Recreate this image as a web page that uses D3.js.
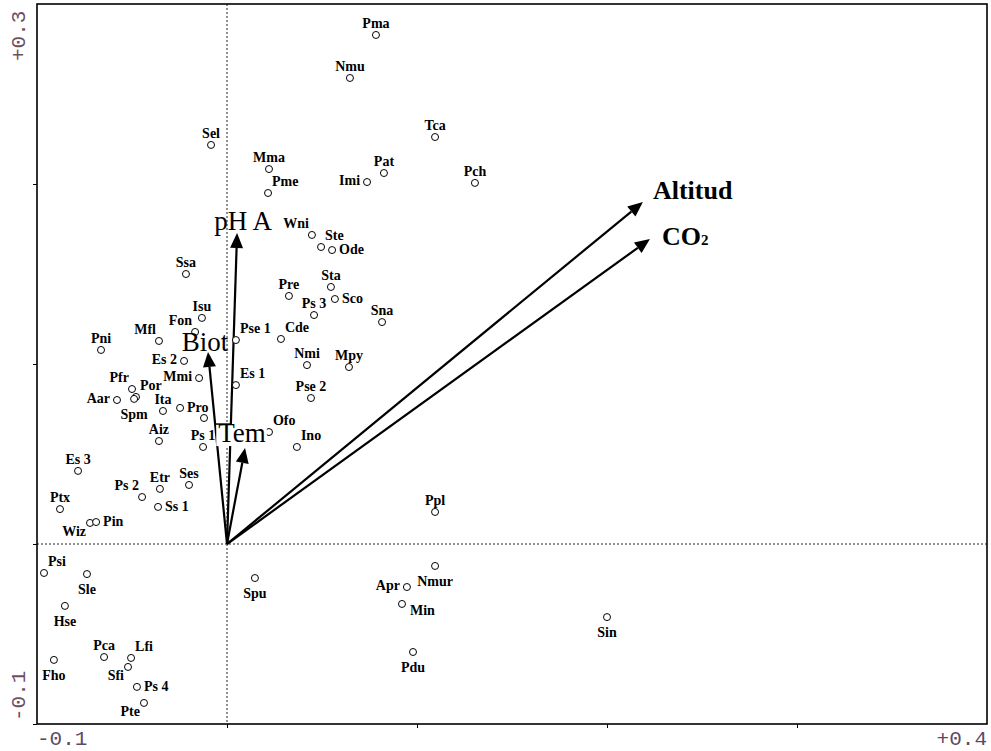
<!DOCTYPE html>
<html>
<head>
<meta charset="utf-8">
<script src="https://cdn.jsdelivr.net/npm/d3@7"></script>
<style>
  body { margin: 0; background: #fff; }
  svg { display: block; }
</style>
</head>
<body>
<div id="target"></div>
<script>
const width = 991,
  height = 751;

// species scores (axis 1, axis 2)
const speciesNames = [
  "Pma", "Nmu", "Sel", "Tca", "Mma", "Pat", "Imi", "Pch", "Pme", "Wni",
  "Ste", "Ode", "Sta", "Sco", "Pre", "Ps 3", "Sna", "Pse 1", "Cde", "Nmi",
  "Mpy", "Es 1", "Pse 2", "Ofo", "Ino", "Ssa", "Isu", "Fon", "Pni", "Mfl",
  "Es 2", "Mmi", "Pfr", "Por", "Spm", "Aar", "Ita", "Pro", "", "Ps 1",
  "Aiz", "Es 3", "Etr", "Ses", "Ps 2", "Ss 1", "Ptx", "Wiz", "Pin", "Psi",
  "Sle", "Hse", "Pca", "Lfi", "Sfi", "Fho", "Ps 4", "Pte", "Spu", "Ppl",
  "Nmur", "Apr", "Min", "Pdu", "Sin"
];
const speciesAxis1 = [
  0.0784, 0.0647, -0.0084, 0.1095, 0.0221, 0.0826, 0.0737, 0.1305, 0.0216, 0.0447,
  0.0495, 0.0553, 0.0547, 0.0568, 0.0326, 0.0458, 0.0816, 0.0047, 0.0284, 0.0421,
  0.0642, 0.0047, 0.0442, 0.0221, 0.0368, -0.0216, -0.0132, -0.0168, -0.0663, -0.0358,
  -0.0226, -0.0147, -0.0500, -0.0479, -0.0489, -0.0579, -0.0337, -0.0247, -0.0121, -0.0126,
  -0.0358, -0.0784, -0.0353, -0.0200, -0.0447, -0.0363, -0.0879, -0.0721, -0.0689, -0.0963,
  -0.0737, -0.0853, -0.0647, -0.0505, -0.0521, -0.0911, -0.0474, -0.0437, 0.0147, 0.1095,
  0.1095, 0.0947, 0.0921, 0.0979, 0.2000
];
const speciesAxis2 = [
  0.2828, 0.2589, 0.2217, 0.2261, 0.2083, 0.2061, 0.2011, 0.2006, 0.1950, 0.1717,
  0.1650, 0.1633, 0.1428, 0.1361, 0.1378, 0.1272, 0.1233, 0.1133, 0.1139, 0.0994,
  0.0983, 0.0883, 0.0811, 0.0622, 0.0539, 0.1500, 0.1256, 0.1178, 0.1078, 0.1128,
  0.1017, 0.0922, 0.0861, 0.0817, 0.0806, 0.0800, 0.0739, 0.0756, 0.0700, 0.0539,
  0.0572, 0.0406, 0.0306, 0.0328, 0.0261, 0.0206, 0.0194, 0.0117, 0.0122, -0.0161,
  -0.0167, -0.0344, -0.0628, -0.0633, -0.0683, -0.0644, -0.0794, -0.0883, -0.0189, 0.0178,
  -0.0122, -0.0239, -0.0333, -0.0600, -0.0406
];

// environmental variables (arrow tips)
const envNames = ["Altitud", "CO2", "pH A", "Biot", "Tem"];
const envAxis1 = [0.2189, 0.2226, 0.0053, -0.0100, 0.0095];
const envAxis2 = [0.1900, 0.1694, 0.1728, 0.1067, 0.0533];

// axis extent labels
const xTickLabels = ["-0.1", "+0.4"];
const yTickLabels = ["-0.1", "+0.3"];
const xTicks = [0, 0.1, 0.2, 0.3];
const yTicks = [-0.1, 0, 0.1, 0.2];

// where each species label sits around its point
const labelSide = [
  "N", "N", "N", "N", "N", "N", "W", "N", "NE", "NW",
  "NE", "E", "N", "E", "N", "N", "N", "NE", "NE", "N",
  "N", "NE", "N", "NE", "NE", "N", "N", "NW", "N", "NW",
  "W", "W", "NW", "NE", "S", "W", "N", "E", "N", "N",
  "N", "N", "N", "N", "NW", "E", "N", "SW", "E", "NE",
  "S", "S", "N", "NE", "SW", "S", "E", "SW", "S", "N",
  "S", "W", "SE", "S", "S"
];
const sideOffset = {
  N: [0, -7, "middle"], S: [0, 20, "middle"], E: [7, 4, "start"], W: [-7, 3, "end"],
  NE: [4, -7, "start"], NW: [-3, -7, "end"], SE: [8, 11, "start"], SW: [-4, 13, "end"]
};
const envLabelOffset = {
  "Altitud": [10, -3, "start"], "CO2": [12, 6, "start"], "pH A": [6, -3, "middle"],
  "Biot": [-3, -1, "middle"], "Tem": [-3, -6, "middle"]
};

const x = d3.scaleLinear().domain([-0.1, 0.4]).range([37, 987]);
const y = d3.scaleLinear().domain([-0.1, 0.3]).range([724, 4]);

const svg = d3.select("#target").append("svg")
  .attr("width", width)
  .attr("height", height);

svg.append("rect")
  .attr("width", width)
  .attr("height", height)
  .attr("fill", "#fff");

// dotted zero lines
svg.append("line")
  .attr("x1", x(0)).attr("x2", x(0))
  .attr("y1", y(0.3)).attr("y2", y(-0.1))
  .attr("stroke", "#222").attr("stroke-dasharray", "2,2");
svg.append("line")
  .attr("x1", x(-0.1)).attr("x2", x(0.4))
  .attr("y1", y(0)).attr("y2", y(0))
  .attr("stroke", "#222").attr("stroke-dasharray", "2,2");

// ticks
svg.append("g")
  .attr("transform", `translate(0,${y(-0.1)})`)
  .call(d3.axisBottom(x).tickValues(xTicks).tickSize(4).tickFormat(""))
  .call(g => g.select(".domain").remove());
svg.append("g")
  .attr("transform", `translate(${x(-0.1)},0)`)
  .call(d3.axisLeft(y).tickValues(yTicks).tickSize(4).tickFormat(""))
  .call(g => g.select(".domain").remove());

// frame
svg.append("rect")
  .attr("x", x(-0.1)).attr("y", y(0.3))
  .attr("width", x(0.4) - x(-0.1))
  .attr("height", y(-0.1) - y(0.3))
  .attr("fill", "none")
  .attr("stroke", "#000")
  .attr("stroke-width", 1.6);

// extent labels
const monoFont = "'Liberation Mono', 'DejaVu Sans Mono', monospace";
svg.append("text")
  .attr("x", x(-0.1)).attr("y", 745)
  .attr("font-family", monoFont).attr("font-size", 21)
  .attr("fill", "#5d4a66")
  .text(xTickLabels[0]);
svg.append("text")
  .attr("x", x(0.4)).attr("y", 745)
  .attr("text-anchor", "end")
  .attr("font-family", monoFont).attr("font-size", 21)
  .attr("fill", "#5d4a66")
  .text(xTickLabels[1]);
svg.append("text")
  .attr("transform", `translate(25,${y(-0.1) - 3}) rotate(-90)`)
  .attr("font-family", monoFont).attr("font-size", 21)
  .attr("fill", "#6d4f60")
  .text(yTickLabels[0]);
svg.append("text")
  .attr("transform", `translate(25,61) rotate(-90)`)
  .attr("font-family", monoFont).attr("font-size", 21)
  .attr("fill", "#6d4f60")
  .text(yTickLabels[1]);

// arrows
const env = envNames.map((name, i) => ({ name, a1: envAxis1[i], a2: envAxis2[i] }));
const ox = x(0), oy = y(0);
const headLen = 15, headHalf = 6.5;

env.forEach((d) => {
  const tx = x(d.a1), ty = y(d.a2);
  const len = Math.hypot(tx - ox, ty - oy);
  const ux = (tx - ox) / len, uy = (ty - oy) / len;
  const bx = tx - ux * headLen, by = ty - uy * headLen;
  svg.append("line")
    .attr("x1", ox).attr("y1", oy)
    .attr("x2", bx).attr("y2", by)
    .attr("stroke", "#000")
    .attr("stroke-width", 2.2);
  svg.append("path")
    .attr("d", `M${tx},${ty}L${bx - uy * headHalf},${by + ux * headHalf}L${bx + uy * headHalf},${by - ux * headHalf}Z`)
    .attr("fill", "#000");
});

// species points
const species = speciesNames.map((name, i) => ({
  name, a1: speciesAxis1[i], a2: speciesAxis2[i], side: labelSide[i]
}));

svg.selectAll(".pt")
  .data(species)
  .enter()
  .append("circle")
  .attr("class", "pt")
  .attr("cx", d => x(d.a1))
  .attr("cy", d => y(d.a2))
  .attr("r", 3.5)
  .attr("fill", "#fff")
  .attr("stroke", "#000")
  .attr("stroke-width", 1);

svg.selectAll(".lbl")
  .data(species.filter(d => d.name !== ""))
  .enter()
  .append("text")
  .attr("class", "lbl")
  .attr("x", d => x(d.a1) + sideOffset[d.side][0])
  .attr("y", d => y(d.a2) + sideOffset[d.side][1])
  .attr("text-anchor", d => sideOffset[d.side][2])
  .attr("font-family", "'Liberation Serif', 'Times New Roman', serif")
  .attr("font-weight", "bold")
  .attr("font-size", 14)
  .text(d => d.name);

// arrow labels
env.forEach((d) => {
  const off = envLabelOffset[d.name];
  const big = d.name === "Altitud" || d.name === "CO2";
  const lx = x(d.a1) + off[0], ly = y(d.a2) + off[1];
  const t = svg.append("text")
    .attr("x", lx)
    .attr("y", ly)
    .attr("text-anchor", off[2])
    .attr("font-family", "'Liberation Serif', 'Times New Roman', serif")
    .attr("font-weight", big ? "bold" : "normal")
    .attr("font-size", big ? 26 : 27);
  if (d.name === "CO2") {
    t.append("tspan").text("CO");
    t.append("tspan").attr("font-size", 15).text("2");
  } else {
    t.text(d.name);
  }
  if (d.name === "Tem") {
    const bb = t.node().getBBox();
    svg.insert("rect", () => t.node())
      .attr("x", bb.x - 2).attr("y", ly - 18)
      .attr("width", bb.width + 3).attr("height", 22)
      .attr("fill", "#fff");
    svg.insert("line", () => t.node())
      .attr("x1", bb.x - 3).attr("x2", bb.x + 12)
      .attr("y1", ly - 18).attr("y2", ly - 18)
      .attr("stroke", "#000").attr("stroke-width", 1.5);
  }
});
</script>
</body>
</html>
